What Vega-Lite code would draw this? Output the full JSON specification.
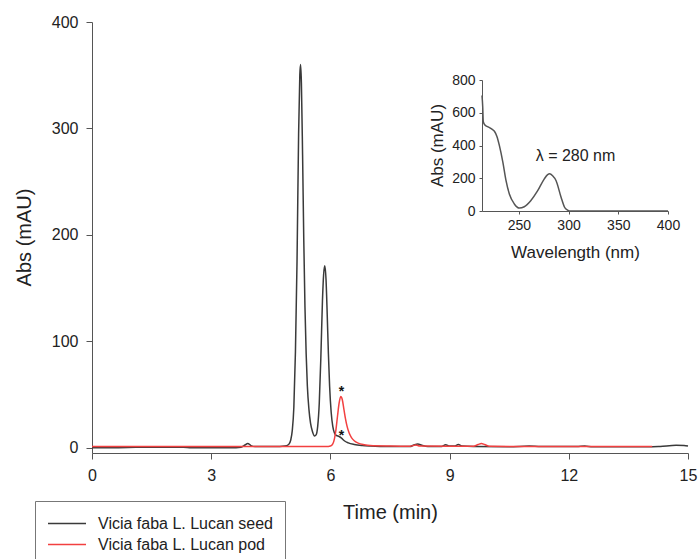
{
  "$schema": "https://vega.github.io/schema/vega-lite/v6.json",
  "width": 596,
  "height": 431,
  "autosize": {"type": "none"},
  "padding": {"left": 92, "top": 22, "right": 12, "bottom": 106},
  "background": "white",
  "config": {
    "view": {"stroke": null},
    "axis": {"grid": false, "labelFont": "Liberation Sans", "titleFont": "Liberation Sans", "titleFontWeight": "normal", "domainColor": "#555", "tickColor": "#555", "labelColor": "#222", "titleColor": "#222", "labelFlush": false},
    "legend": {"labelFont": "Liberation Sans"}
  },
  "datasets": {
    "seed": [
      {"t":0,"a":0},{"t":0.5,"a":0},{"t":1.1,"a":0.3},{"t":1.5,"a":0.5},{"t":2.3,"a":0.4},{"t":2.5,"a":0},{"t":3.5,"a":0},{"t":3.75,"a":0.5},{"t":3.85,"a":2.5},{"t":3.92,"a":4},{"t":4.0,"a":2},{"t":4.1,"a":1},{"t":4.6,"a":1},{"t":4.85,"a":1.5},{"t":4.95,"a":3},{"t":5.0,"a":7},{"t":5.04,"a":16},{"t":5.08,"a":38},{"t":5.12,"a":90},{"t":5.16,"a":175},{"t":5.2,"a":295},{"t":5.23,"a":350},{"t":5.25,"a":360},{"t":5.27,"a":343},{"t":5.3,"a":275},{"t":5.33,"a":195},{"t":5.36,"a":132},{"t":5.39,"a":88},{"t":5.42,"a":58},{"t":5.46,"a":36},{"t":5.5,"a":23},{"t":5.55,"a":15},{"t":5.6,"a":11},{"t":5.64,"a":12},{"t":5.68,"a":20},{"t":5.72,"a":42},{"t":5.76,"a":85},{"t":5.8,"a":138},{"t":5.83,"a":163},{"t":5.86,"a":171},{"t":5.89,"a":158},{"t":5.92,"a":125},{"t":5.95,"a":88},{"t":5.98,"a":58},{"t":6.02,"a":33},{"t":6.06,"a":20},{"t":6.1,"a":14},{"t":6.15,"a":11.5},{"t":6.22,"a":10.5},{"t":6.28,"a":9},{"t":6.35,"a":6.5},{"t":6.45,"a":4.5},{"t":6.6,"a":3},{"t":6.8,"a":2},{"t":7.0,"a":1.5},{"t":7.5,"a":1},{"t":8.0,"a":1},{"t":8.1,"a":2.5},{"t":8.2,"a":3.5},{"t":8.3,"a":2.2},{"t":8.45,"a":1},{"t":8.8,"a":1},{"t":8.9,"a":2.8},{"t":9.0,"a":1.5},{"t":9.12,"a":1.5},{"t":9.22,"a":3},{"t":9.32,"a":1.5},{"t":9.6,"a":1},{"t":10.5,"a":0.8},{"t":11.0,"a":1.5},{"t":11.3,"a":1},{"t":12.2,"a":1},{"t":12.4,"a":1.5},{"t":12.6,"a":0.8},{"t":14.0,"a":0.8},{"t":14.3,"a":1.2},{"t":14.7,"a":2.2},{"t":14.9,"a":2},{"t":15,"a":1.5}
    ],
    "pod": [
      {"t":0,"a":1},{"t":1.0,"a":1},{"t":2.0,"a":1.2},{"t":3,"a":1},{"t":4,"a":1},{"t":5,"a":1},{"t":5.9,"a":1},{"t":6.0,"a":1.5},{"t":6.06,"a":3.5},{"t":6.1,"a":8},{"t":6.14,"a":17},{"t":6.18,"a":30},{"t":6.22,"a":42},{"t":6.26,"a":48},{"t":6.3,"a":45},{"t":6.34,"a":36},{"t":6.38,"a":27},{"t":6.42,"a":20},{"t":6.47,"a":14},{"t":6.53,"a":9.5},{"t":6.6,"a":6.5},{"t":6.7,"a":4.3},{"t":6.85,"a":2.8},{"t":7.0,"a":2},{"t":7.5,"a":1.5},{"t":8.0,"a":1.3},{"t":8.15,"a":2.5},{"t":8.25,"a":1.5},{"t":9.0,"a":1.3},{"t":9.6,"a":1.3},{"t":9.72,"a":3},{"t":9.8,"a":4},{"t":9.88,"a":3},{"t":10.0,"a":1.3},{"t":11,"a":1},{"t":12,"a":1},{"t":13,"a":1},{"t":14.1,"a":1}
    ],
    "stars": [{"t":6.28,"a":52,"s":"*"},{"t":6.28,"a":11,"s":"*"}],
    "spectrum": [
      {"w":213,"v":705},{"w":213.7,"v":640},{"w":214.3,"v":545},{"w":216,"v":525},{"w":218,"v":517},{"w":220,"v":511},{"w":223,"v":500},{"w":225.5,"v":487},{"w":228,"v":455},{"w":230.5,"v":399},{"w":234,"v":297},{"w":237,"v":190},{"w":240.5,"v":104},{"w":245.5,"v":43},{"w":250.5,"v":18},{"w":255.5,"v":26},{"w":262,"v":63},{"w":269,"v":124},{"w":275.5,"v":195},{"w":279,"v":222},{"w":281,"v":227},{"w":284,"v":215},{"w":287.5,"v":185},{"w":292.5,"v":84},{"w":296,"v":23},{"w":299,"v":5},{"w":301,"v":0},{"w":400,"v":0}
    ],
    "lambda": [{"w":307,"v":333,"s":"λ = 280 nm"}]
  },
  "layer": [
    {
      "layer": [
        {
          "data": {"name": "seed"},
          "mark": {"type": "line", "interpolate": "monotone", "strokeWidth": 1.5},
          "encoding": {
            "x": {"field": "t", "type": "quantitative", "scale": {"domain": [0, 15], "nice": false, "zero": false},
                  "axis": {"values": [0,3,6,9,12,15], "tickSize": 6, "labelFontSize": 16, "labelPadding": 8, "title": "Time (min)", "titleFontSize": 20, "titleX": 298, "titleY": 59, "titleBaseline": "middle", "titleAlign": "center"}},
            "y": {"field": "a", "type": "quantitative", "scale": {"domain": [-5, 400], "nice": false, "zero": false},
                  "axis": {"values": [0,100,200,300,400], "tickSize": 6, "labelFontSize": 16, "labelPadding": 8, "title": "Abs (mAU)", "titleFontSize": 20, "titleX": -68, "titleY": 215, "titleBaseline": "middle", "titleAlign": "center", "titleAngle": -90}},
            "color": {"datum": "Vicia faba L. Lucan seed", "type": "nominal",
                      "scale": {"domain": ["Vicia faba L. Lucan seed", "Vicia faba L. Lucan pod"], "range": ["#3a3a3a", "#f24040"]},
                      "legend": {"orient": "none", "legendX": -57, "legendY": 479, "title": null, "symbolType": "M-1,0L3,0", "symbolSize": 361, "symbolStrokeWidth": 1.5, "labelFontSize": 16, "labelLimit": 400, "labelColor": "#222", "strokeColor": "#777", "fillColor": "white", "padding": 12, "labelOffset": 30, "rowPadding": 2, "cornerRadius": 0}}
          }
        },
        {
          "data": {"name": "pod"},
          "mark": {"type": "line", "interpolate": "monotone", "strokeWidth": 1.5},
          "encoding": {
            "x": {"field": "t", "type": "quantitative"},
            "y": {"field": "a", "type": "quantitative"},
            "color": {"datum": "Vicia faba L. Lucan pod", "type": "nominal"}
          }
        },
        {
          "data": {"name": "stars"},
          "mark": {"type": "text", "font": "Liberation Sans", "fontSize": 14, "fontWeight": "bold", "color": "#111", "baseline": "middle", "align": "center"},
          "encoding": {
            "x": {"field": "t", "type": "quantitative"},
            "y": {"field": "a", "type": "quantitative"},
            "text": {"field": "s"}
          }
        }
      ]
    },
    {
      "layer": [
        {
          "data": {"name": "spectrum"},
          "mark": {"type": "line", "interpolate": "monotone", "strokeWidth": 1.5, "color": "#555"},
          "encoding": {
            "x": {"field": "w", "type": "quantitative", "scale": {"domain": [213, 400], "range": [390, 576], "nice": false, "zero": false},
                  "axis": {"orient": "bottom", "offset": -242, "values": [250,300,350,400], "tickSize": 3, "labelFontSize": 14, "labelPadding": 4, "title": "Wavelength (nm)", "titleFontSize": 17, "titleX": 483, "titleY": 41, "titleBaseline": "middle", "titleAlign": "center"}},
            "y": {"field": "v", "type": "quantitative", "scale": {"domain": [0, 800], "range": [189, 58], "nice": false, "zero": false},
                  "axis": {"orient": "left", "offset": -390, "values": [0,200,400,600,800], "tickSize": 3, "labelFontSize": 14, "labelPadding": 4, "title": "Abs (mAU)", "titleFontSize": 17, "titleX": -45, "titleY": 123, "titleBaseline": "middle", "titleAlign": "center", "titleAngle": -90}}
          }
        },
        {
          "data": {"name": "lambda"},
          "mark": {"type": "text", "font": "Liberation Sans", "fontSize": 16, "color": "#222", "baseline": "middle", "align": "center"},
          "encoding": {
            "x": {"field": "w", "type": "quantitative"},
            "y": {"field": "v", "type": "quantitative"},
            "text": {"field": "s"}
          }
        }
      ]
    }
  ],
  "resolve": {"scale": {"x": "independent", "y": "independent"}, "axis": {"x": "independent", "y": "independent"}}
}
